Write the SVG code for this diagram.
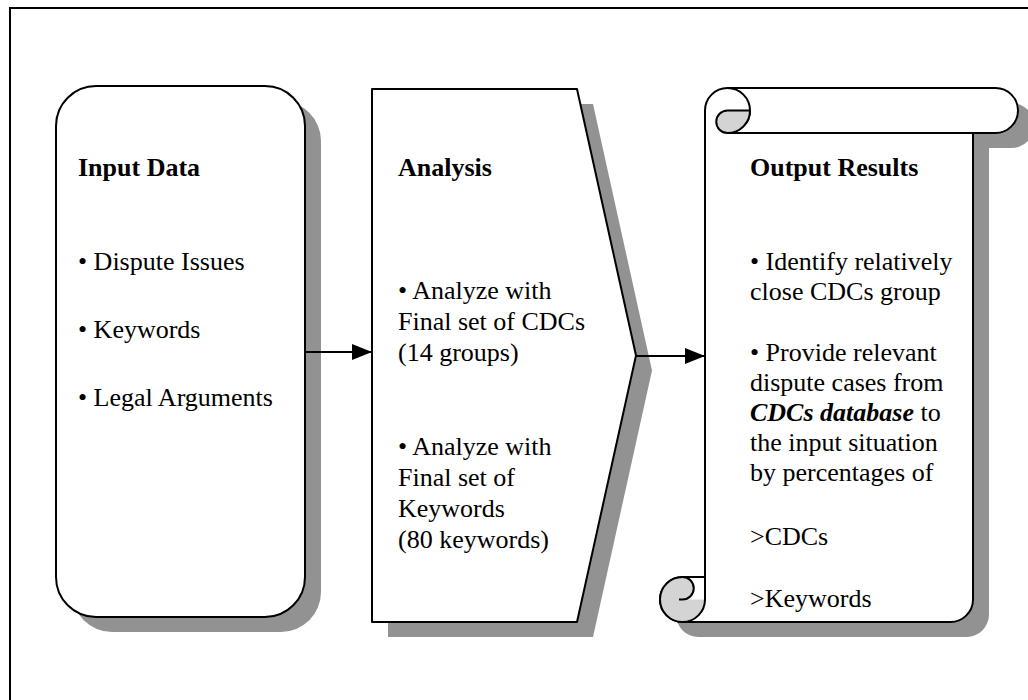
<svg xmlns="http://www.w3.org/2000/svg" width="1028" height="700" viewBox="0 0 1028 700">
  <style>
    .frame { fill: none; stroke: #000; stroke-width: 2; }
    .shape { fill: #fff; stroke: #000; stroke-width: 2; stroke-linejoin: round; }
    .shadow { fill: #929292; stroke: none; }
    .curl { fill: #d4d4d4; stroke: #000; stroke-width: 2; }
    .curlfill { fill: #d4d4d4; stroke: none; }
    .line { fill: none; stroke: #000; stroke-width: 2; }
    .conn { fill: none; stroke: #000; stroke-width: 2; }
    text { font-family: "Liberation Serif", "Times New Roman", serif; font-size: 26px; fill: #000; }
    .head { font-weight: bold; }
  </style>
  <defs>
    <marker id="arrow" viewBox="0 0 20 16" refX="20" refY="8" markerWidth="20" markerHeight="16" markerUnits="userSpaceOnUse" orient="auto">
      <path d="M0,0 L20,8 L0,16 Z" fill="#000"/>
    </marker>
    <!-- vertical scroll outline: top roll to the right, bottom roll to the left -->
    <path id="scrollOutline" d="M705,110.5 A22.5,22.5 0 0 1 727.5,88 L995.5,88 A22.5,22.5 0 0 1 995.5,133 L973,133 L973,599.5 A22.5,22.5 0 0 1 950.5,622 L682.5,622 A22.5,22.5 0 0 1 682.5,577 L705,577 Z"/>
  </defs>

  <rect class="frame" x="10" y="8" width="1040" height="720"/>

  <!-- Input node -->
  <g id="input">
    <rect class="shadow" x="72" y="101" width="249" height="531" rx="40" ry="40"/>
    <rect class="shape" x="56" y="86" width="249" height="531" rx="40" ry="40"/>
    <text class="head" x="78" y="176">Input Data</text>
    <text x="78" y="270">• Dispute Issues</text>
    <text x="78" y="338">• Keywords</text>
    <text x="78" y="406">• Legal Arguments</text>
  </g>

  <!-- Analysis node -->
  <g id="analysis">
    <polygon class="shadow" points="388,104 593,104 652,370.5 593,637 388,637"/>
    <polygon class="shape" points="372,89 577,89 636,355.5 577,622 372,622"/>
    <text class="head" x="398" y="176">Analysis</text>
    <text x="398" y="299">• Analyze with</text>
    <text x="398" y="330">Final set of CDCs</text>
    <text x="398" y="361">(14 groups)</text>
    <text x="398" y="455">• Analyze with</text>
    <text x="398" y="486">Final set of</text>
    <text x="398" y="517">Keywords</text>
    <text x="398" y="548">(80 keywords)</text>
  </g>

  <!-- Output node: vertical scroll -->
  <g id="output">
    <use href="#scrollOutline" class="shadow" transform="translate(16,15)"/>
    <use href="#scrollOutline" class="shape"/>
    <!-- top roll -->
    <path class="line" d="M727.5,88 A22.5,22.5 0 0 1 727.5,133 L973,133"/>
    <path class="curl" d="M727.5,110.5 A11.25,11.25 0 0 0 727.5,133 A22.5,22.5 0 0 0 750,110.5 Z"/>
    <!-- bottom roll -->
    <path class="curlfill" d="M682.5,577 A11.25,11.25 0 0 1 682.5,599.5 L705,599.5 A22.5,22.5 0 0 1 682.5,622 A22.5,22.5 0 0 1 682.5,577 Z"/>
    <path class="line" d="M682.5,622 A22.5,22.5 0 0 1 682.5,577 L705,577 L705,599.5 A22.5,22.5 0 0 1 682.5,622 L950.5,622"/>
    <path class="line" d="M682.5,577 A11.25,11.25 0 0 1 682.5,599.5 L679,599.5"/>
    <text class="head" x="750" y="176">Output Results</text>
    <text x="750" y="270">• Identify relatively</text>
    <text x="750" y="300">close CDCs group</text>
    <text x="750" y="361">• Provide relevant</text>
    <text x="750" y="391">dispute cases from</text>
    <text x="750" y="421"><tspan font-weight="bold" font-style="italic">CDCs database</tspan> to</text>
    <text x="750" y="451">the input situation</text>
    <text x="750" y="481">by percentages of</text>
    <text x="750" y="545">&gt;CDCs</text>
    <text x="750" y="607">&gt;Keywords</text>
  </g>

  <!-- connectors -->
  <g id="connectors">
    <line class="conn" x1="306" y1="352" x2="372" y2="352" marker-end="url(#arrow)"/>
    <line class="conn" x1="636" y1="356" x2="705" y2="356" marker-end="url(#arrow)"/>
  </g>
</svg>
